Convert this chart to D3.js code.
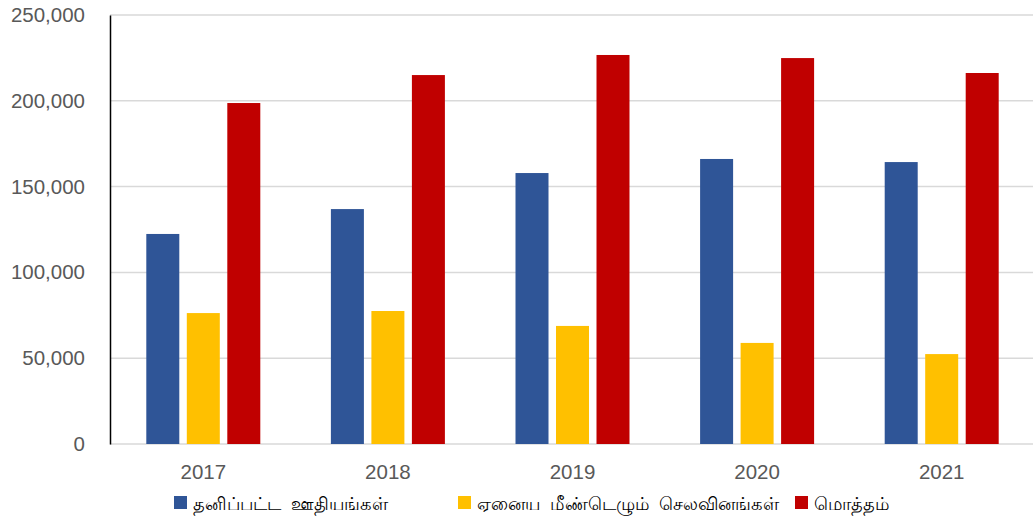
<!DOCTYPE html>
<html><head><meta charset="utf-8">
<script src="https://cdn.jsdelivr.net/npm/d3@7/dist/d3.min.js"></script>
<style>
html,body{margin:0;padding:0;background:#fff;}
svg text{font-family:"Liberation Sans",Arial,sans-serif;}
</style></head>
<body><svg id="c" width="1036" height="522"></svg>
<script>
const years = ["2017","2018","2019","2020","2021"];
const seriesNames = ["தனிப்பட்ட  ஊதியங்கள்","ஏனைய  மீண்டெழும்  செலவினங்கள்","மொத்தம்"];
const salaries = [122400, 136900, 157900, 166100, 164300];
const recurrent = [76300, 77500, 68800, 58900, 52400];
const totals = [198700, 215000, 226700, 224900, 216200];
const colors = ["#2F5597","#FFC000","#C00000"];
const yTicks = [0, 50000, 100000, 150000, 200000, 250000];

const svg = d3.select("#c");
const mLeft = 110, mRight = 1033, mTop = 15, mBottom = 444;
const x = d3.scaleBand().domain(years).range([mLeft + 1, mRight + 1]).paddingInner(0).paddingOuter(0);
const y = d3.scaleLinear().domain([0, 250000]).range([mBottom, mTop]);
const series = [salaries, recurrent, totals];
const barW = 33, step = 40.5;

// gridlines
svg.append("g").selectAll("line").data(yTicks).join("line")
  .attr("x1", mLeft).attr("x2", mRight)
  .attr("y1", d => y(d)).attr("y2", d => y(d))
  .attr("stroke", "#d9d9d9").attr("stroke-width", 1.5);

// bars
series.forEach((vals, si) => {
  svg.append("g").selectAll("rect").data(vals).join("rect")
    .attr("x", (d, i) => x(years[i]) + x.bandwidth()/2 - (3*barW + 2*(step-barW))/2 + si*step)
    .attr("width", barW)
    .attr("y", d => y(d))
    .attr("height", d => y(0) - y(d))
    .attr("fill", colors[si]);
});

// y axis
const yAxis = d3.axisLeft(y).tickValues(yTicks).tickSize(0).tickPadding(25)
  .tickFormat(d3.format(","));
const ga = svg.append("g").attr("transform", `translate(${mLeft},0)`).call(yAxis);
ga.select(".domain").attr("stroke", "#000").attr("stroke-width", 1.5);
ga.selectAll("text").attr("fill", "#595959").attr("font-size", "20.5px")
  .attr("font-family", "'Liberation Sans', Arial, sans-serif");

// x axis
const xAxis = d3.axisBottom(x).tickSize(0).tickPadding(20);
const gx = svg.append("g").attr("transform", `translate(0,${mBottom})`).call(xAxis);
gx.select(".domain").remove();
gx.selectAll("text").attr("fill", "#595959").attr("font-size", "20.5px")
  .attr("font-family", "'Liberation Sans', Arial, sans-serif");

// legend
const legX = [174, 458, 795];
const lg = svg.append("g");
seriesNames.forEach((n, i) => {
  lg.append("rect").attr("x", legX[i]).attr("y", 496).attr("width", 13).attr("height", 13).attr("fill", colors[i]);
  lg.append("text").attr("x", legX[i] + 19).attr("y", 509.5)
    .attr("font-size", "18.4px").attr("fill", "#000")
    .style("white-space", "pre").attr("xml:space", "preserve")
    .attr("font-family", "'Noto Sans Tamil','Latha','Noto Sans','Liberation Sans',sans-serif")
    .text(n);
});
</script></body></html>
